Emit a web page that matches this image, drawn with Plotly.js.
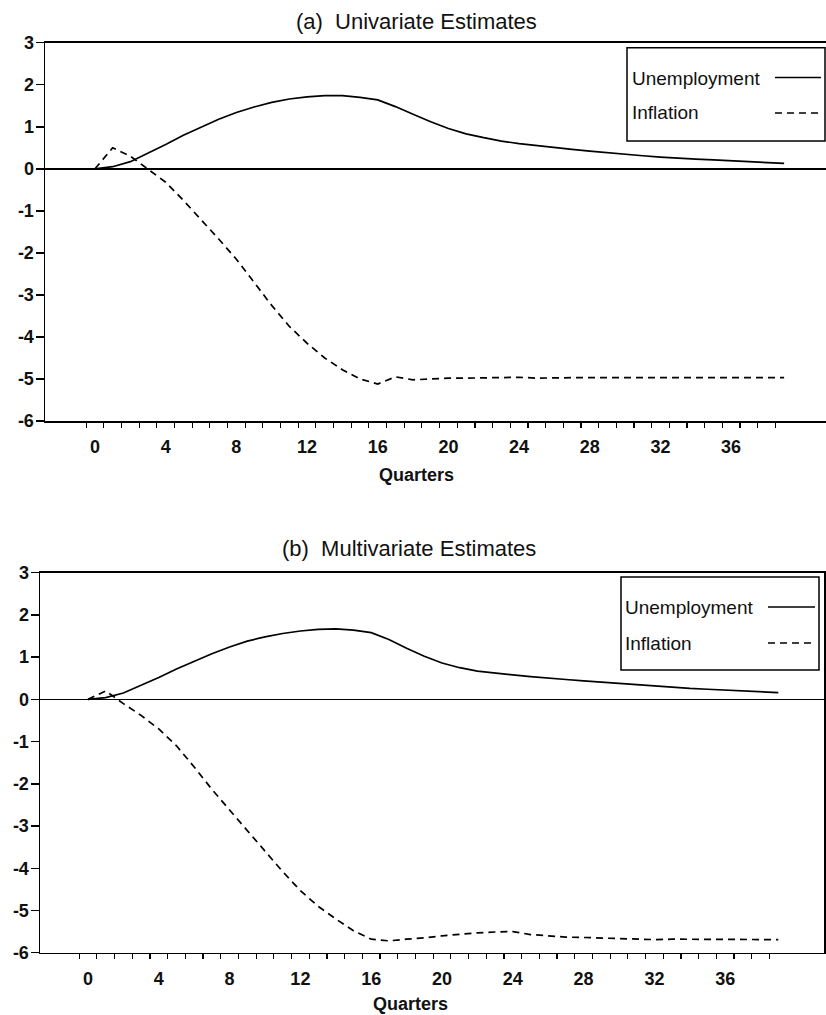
<!DOCTYPE html>
<html>
<head>
<meta charset="utf-8">
<script src="https://cdn.plot.ly/plotly-3.0.1.min.js"></script>
<style>html,body{margin:0;padding:0;background:#fff;}#chart{width:826px;height:1015px;}</style>
</head>
<body>
<div id="chart"></div>
<script>
const quarters = [0,1,2,3,4,5,6,7,8,9,10,11,12,13,14,15,16,17,18,19,20,21,22,23,24,25,26,27,28,29,30,31,32,33,34,35,36,37,38,39];

const unempA = [0,0.05,0.17,0.37,0.58,0.80,1.00,1.18,1.34,1.47,1.58,1.66,1.71,1.74,1.74,1.70,1.64,1.48,1.30,1.12,0.96,0.83,0.74,0.66,0.60,0.55,0.51,0.46,0.42,0.38,0.34,0.31,0.28,0.25,0.23,0.21,0.19,0.17,0.15,0.13];
const inflA = [0,0.5,0.30,0.0,-0.32,-0.75,-1.20,-1.67,-2.15,-2.70,-3.25,-3.75,-4.15,-4.50,-4.78,-5.00,-5.12,-4.95,-5.02,-5.00,-4.98,-4.98,-4.97,-4.97,-4.96,-4.98,-4.97,-4.97,-4.97,-4.97,-4.97,-4.97,-4.97,-4.97,-4.97,-4.97,-4.97,-4.97,-4.97,-4.97];

const unempB = [0,0.04,0.15,0.33,0.52,0.72,0.90,1.08,1.24,1.38,1.48,1.56,1.62,1.66,1.67,1.64,1.58,1.42,1.21,1.02,0.86,0.75,0.67,0.62,0.58,0.54,0.50,0.47,0.44,0.41,0.38,0.34,0.31,0.28,0.26,0.24,0.22,0.20,0.18,0.16];
const inflB = [0,0.2,-0.1,-0.38,-0.70,-1.10,-1.6,-2.13,-2.62,-3.1,-3.6,-4.08,-4.53,-4.9,-5.2,-5.48,-5.68,-5.72,-5.68,-5.65,-5.60,-5.56,-5.53,-5.51,-5.50,-5.57,-5.60,-5.63,-5.64,-5.65,-5.66,-5.68,-5.69,-5.68,-5.68,-5.68,-5.68,-5.69,-5.69,-5.69];

const xTickVals = [0,4,8,12,16,20,24,28,32,36];
const xTickText = ['0','4','8','12','16','20','24','28','32','36'];
const catBoundaries = [-0.5,0.5,1.5,2.5,3.5,4.5,5.5,6.5,7.5,8.5,9.5,10.5,11.5,12.5,13.5,14.5,15.5,16.5,17.5,18.5,19.5,20.5,21.5,22.5,23.5,24.5,25.5,26.5,27.5,28.5,29.5,30.5,31.5,32.5,33.5,34.5,35.5,36.5,37.5,38.5];
const yTickVals = [3,2,1,0,-1,-2,-3,-4,-5,-6];
const yTickText = ['3','2','1','0','-1','-2','-3','-4','-5','-6'];
const seriesNames = ['Unemployment','Inflation'];
const panelTitles = ['(a)  Univariate Estimates','(b)  Multivariate Estimates'];
const xTitle = 'Quarters';

const W = 826, H = 1015;
const px = x => x / W;
const py = y => 1 - y / H;
const FONT = 'Liberation Sans, Arial, Helvetica, sans-serif';

const solid = {color:'#000', width:1.7};
const dashed = {color:'#000', width:1.7, dash:'7px,5px'};

const traces = [
  {x:quarters, y:unempA, type:'scatter', mode:'lines', line:solid, name:seriesNames[0], xaxis:'x', yaxis:'y', showlegend:false},
  {x:quarters, y:inflA, type:'scatter', mode:'lines', line:dashed, name:seriesNames[1], xaxis:'x', yaxis:'y', showlegend:false},
  {x:quarters, y:unempB, type:'scatter', mode:'lines', line:solid, name:seriesNames[0], xaxis:'x2', yaxis:'y2', showlegend:false},
  {x:quarters, y:inflB, type:'scatter', mode:'lines', line:dashed, name:seriesNames[1], xaxis:'x2', yaxis:'y2', showlegend:false}
];

function xAxis(domain, range, anchor){
  return {
    domain: domain, range: range, anchor: anchor,
    showline:true, linecolor:'#000', linewidth:1.5, mirror:true,
    showgrid:false, zeroline:false,
    tickmode:'array', tickvals:xTickVals, ticktext:xTickText,
    ticks:'', ticklabelstandoff:9,
    tickfont:{family:FONT, size:18, color:'#111', weight:'bold'},
    minor:{tickmode:'array', tickvals:catBoundaries, ticks:'outside', ticklen:5, tickwidth:1.2, tickcolor:'#000', showgrid:false}
  };
}
function yAxis(domain, anchor, mirror){
  return {
    domain: domain, range:[-6,3], anchor: anchor,
    showline:true, linecolor:'#000', linewidth:1.5, mirror:mirror,
    showgrid:false, zeroline:true, zerolinecolor:'#000', zerolinewidth:1.5,
    tickmode:'array', tickvals:yTickVals, ticktext:yTickText,
    ticks:'outside', ticklen:8, tickwidth:1.5, tickcolor:'#000',
    ticklabelstandoff:-2,
    tickfont:{family:FONT, size:18, color:'#111', weight:'bold'}
  };
}

const titleFont = {family:FONT, size:22, color:'#111'};
const axTitleFont = {family:FONT, size:18, color:'#111', weight:'bold'};
const legFont = {family:FONT, size:19, color:'#111'};

const layout = {
  width:W, height:H,
  margin:{l:0, r:0, t:0, b:0},
  paper_bgcolor:'#fff', plot_bgcolor:'#fff',
  showlegend:false,
  xaxis: xAxis([px(45), 1], [-2.83, 41.37], 'y'),
  yaxis: yAxis([py(421), py(42.7)], 'x', false),
  xaxis2: xAxis([px(40), px(824)], [-2.71, 41.58], 'y2'),
  yaxis2: yAxis([py(952.7), py(572.7)], 'x2', true),
  annotations: [
    {text:panelTitles[0], xref:'paper', yref:'paper', x:px(416), y:py(22), xanchor:'center', yanchor:'middle', showarrow:false, font:titleFont},
    {text:panelTitles[1], xref:'paper', yref:'paper', x:px(409), y:py(548), xanchor:'center', yanchor:'middle', showarrow:false, font:titleFont},
    {text:xTitle, xref:'paper', yref:'paper', x:px(416), y:py(475), xanchor:'center', yanchor:'middle', showarrow:false, font:axTitleFont},
    {text:xTitle, xref:'paper', yref:'paper', x:px(410), y:py(1004), xanchor:'center', yanchor:'middle', showarrow:false, font:axTitleFont},
    {text:seriesNames[0], xref:'paper', yref:'paper', x:px(630), y:py(78), xanchor:'left', yanchor:'middle', showarrow:false, font:legFont},
    {text:seriesNames[1], xref:'paper', yref:'paper', x:px(630), y:py(113), xanchor:'left', yanchor:'middle', showarrow:false, font:legFont},
    {text:seriesNames[0], xref:'paper', yref:'paper', x:px(623), y:py(607), xanchor:'left', yanchor:'middle', showarrow:false, font:legFont},
    {text:seriesNames[1], xref:'paper', yref:'paper', x:px(623), y:py(643), xanchor:'left', yanchor:'middle', showarrow:false, font:legFont}
  ],
  shapes: [
    {type:'rect', xref:'paper', yref:'paper', x0:px(627), x1:px(825), y0:py(141), y1:py(47.7), line:{color:'#000', width:1.5}, fillcolor:'#fff'},
    {type:'line', xref:'paper', yref:'paper', x0:px(775), x1:px(821), y0:py(77.5), y1:py(77.5), line:solid},
    {type:'line', xref:'paper', yref:'paper', x0:px(775), x1:px(821), y0:py(113), y1:py(113), line:dashed},
    {type:'rect', xref:'paper', yref:'paper', x0:px(621), x1:px(819), y0:py(670), y1:py(577), line:{color:'#000', width:1.5}, fillcolor:'#fff'},
    {type:'line', xref:'paper', yref:'paper', x0:px(768), x1:px(815), y0:py(607), y1:py(607), line:solid},
    {type:'line', xref:'paper', yref:'paper', x0:px(768), x1:px(815), y0:py(643), y1:py(643), line:dashed}
  ]
};

Plotly.newPlot('chart', traces, layout, {displayModeBar:false, staticPlot:true});
</script>
</body>
</html>
